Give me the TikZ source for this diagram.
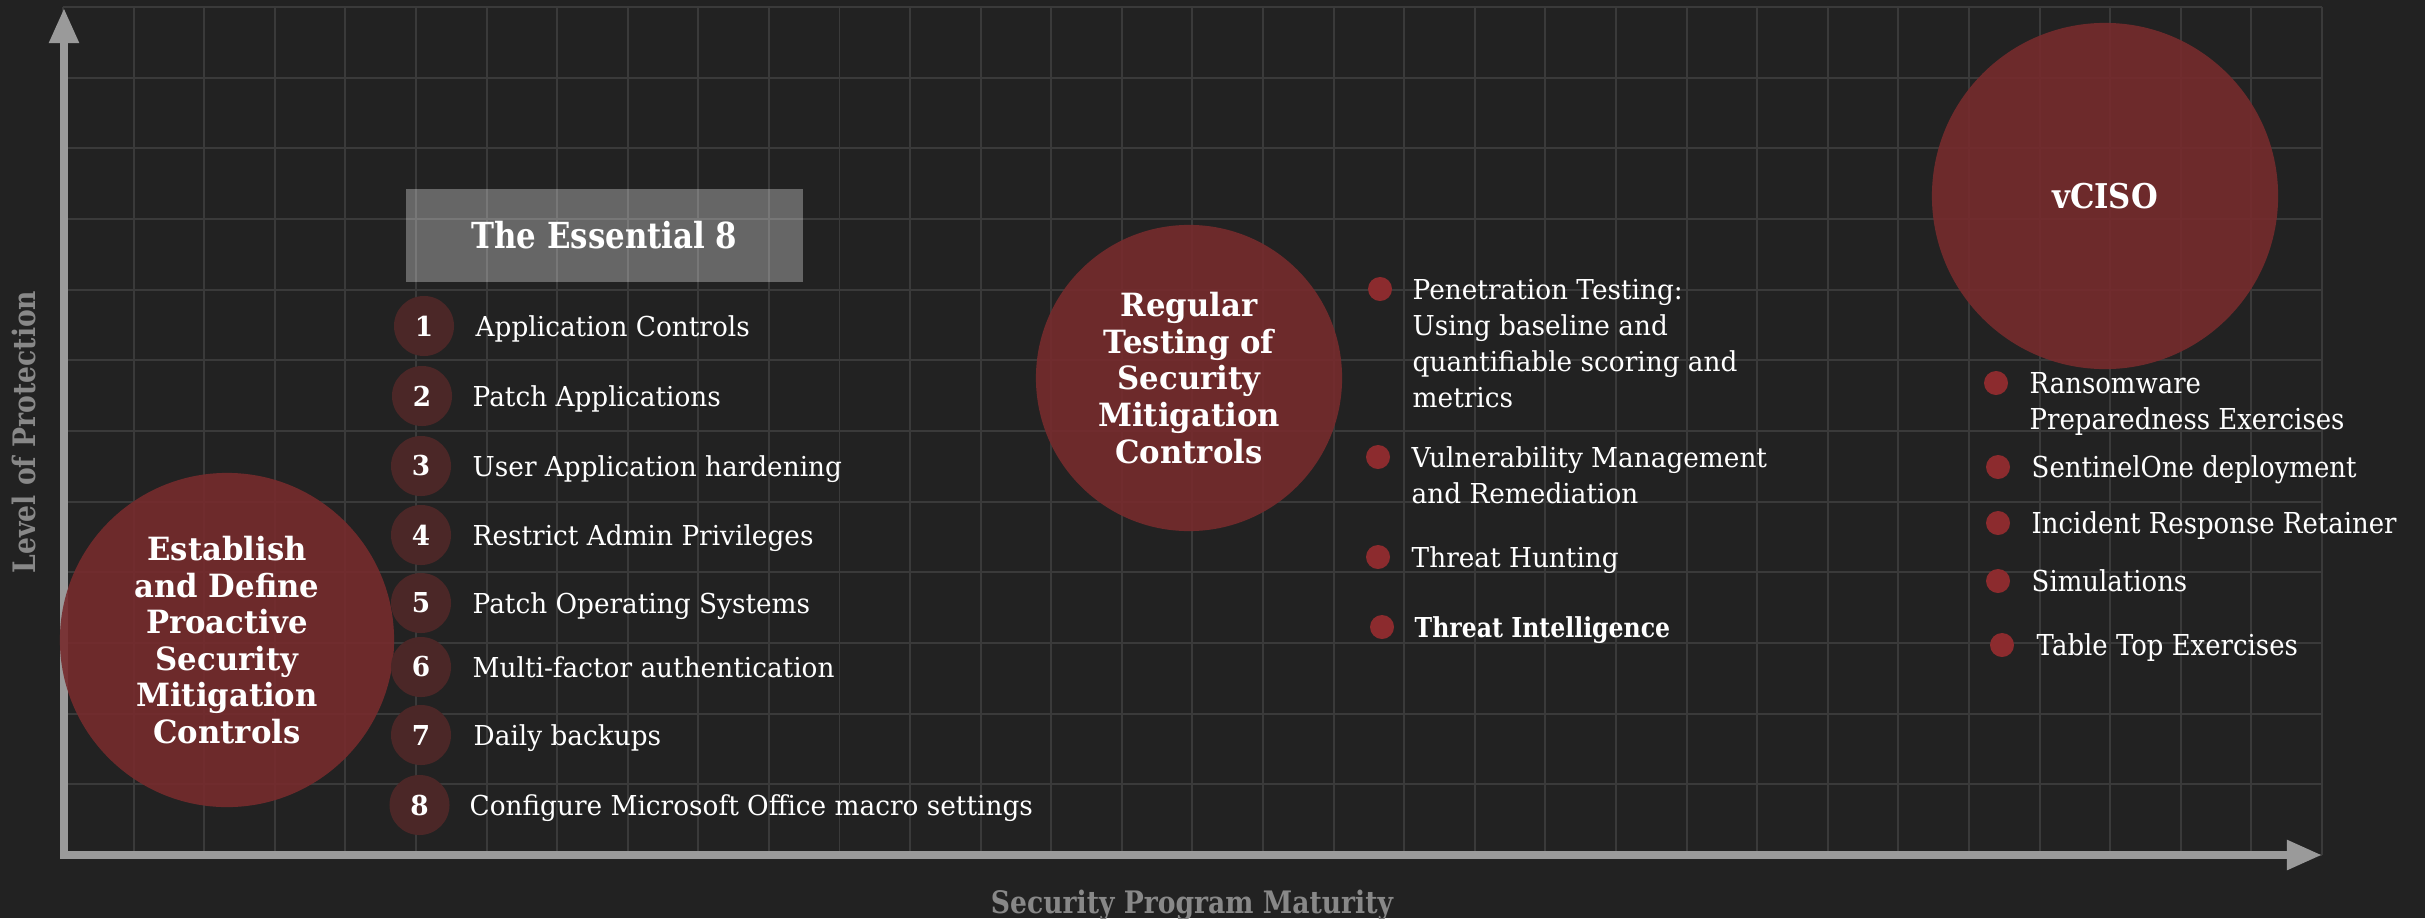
\documentclass[tikz,border=0pt]{standalone}
\usepackage{fontspec}
\setmainfont{DejaVu Serif}[FakeStretch=0.96]
\newfontfamily\narrowserif{DejaVu Serif}[FakeStretch=0.86]
\newfontfamily\wideserif{DejaVu Serif}[FakeStretch=0.9]
\usetikzlibrary{arrows.meta}

\definecolor{bg}{HTML}{222222}
\definecolor{gridc}{HTML}{3A3A3A}
\definecolor{axisc}{HTML}{9A9A9A}
\definecolor{labelc}{HTML}{888888}
\definecolor{bubble}{HTML}{762B2D}
\definecolor{numc}{HTML}{4B2727}
\definecolor{dotc}{HTML}{8C2B2E}

\tikzset{
  gridline/.style={draw=gridc, line width=0.55pt},
  axisline/.style={draw=axisc, line width=2.3pt,
    {Triangle[length=10pt,width=8pt]}-{Triangle[length=10pt,width=8pt]}},
  bigbubble/.style={circle, fill=bubble, fill opacity=0.9, text opacity=1,
    text=white, inner sep=0pt, align=center,
    font=\bfseries\fontsize{9.1}{10.4}\selectfont},
  titlebox/.style={fill=white, fill opacity=0.31, text opacity=1, text=white,
    minimum width=3.97cm, minimum height=0.93cm, inner sep=0pt,
    font=\narrowserif\bfseries\fontsize{10.2}{12}\selectfont},
  numdisc/.style={circle, fill=numc, minimum size=0.6cm, inner sep=0pt,
    text=white, font=\bfseries\fontsize{7.8}{9}\selectfont},
  item/.style={anchor=base west, inner sep=0pt, text=white, align=left,
    font=\fontsize{7.8}{10.2}\selectfont},
  dot/.style={circle, fill=dotc, minimum size=0.24cm, inner sep=0pt},
  ritem/.style={anchor=base west, inner sep=0pt, text=white, align=left,
    font=\wideserif\fontsize{8.2}{10.2}\selectfont},
  axislabel/.style={text=labelc, inner sep=0pt,
    font=\narrowserif\bfseries\fontsize{8.8}{10}\selectfont}
}

\begin{document}
\begin{tikzpicture}[x=0.01cm, y=-0.01cm]
  % canvas
  \fill[bg] (0,0) rectangle (2425,918);
  \useasboundingbox (0,0) rectangle (2425,918);

  % background grid, 32 x 12 cells
  \foreach \i in {0,...,32}
    \draw[gridline] ({63+70.59*\i},7) -- ({63+70.59*\i},855);
  \foreach \j in {0,...,12}
    \draw[gridline] (63,{7+70.67*\j}) -- (2322,{7+70.67*\j});

  % axes
  \coordinate (origin) at (64,855);
  \coordinate (ytip) at (64,8);
  \coordinate (xtip) at (2322,855);
  \draw[axisline] (ytip) -- (origin) -- (xtip);

  \node[axislabel, rotate=90] (ylab) at (24,432) {Level of Protection};
  \node[axislabel, anchor=base] (xlab) at (1192,913) {Security Program Maturity};

  % stage 1: establish and define
  \node[bigbubble, minimum size=3.34cm] (est) at (227,640)
    {Establish\\and Define\\Proactive\\Security\\Mitigation\\Controls};

  \node[titlebox] (e8) at (604.5,235.5) {The Essential 8};

  \node[numdisc] (n1) at (424,326) {1};
  \node[numdisc] (n2) at (422,396) {2};
  \node[numdisc] (n3) at (421,466) {3};
  \node[numdisc] (n4) at (421,535) {4};
  \node[numdisc] (n5) at (421,603) {5};
  \node[numdisc] (n6) at (421,667) {6};
  \node[numdisc] (n7) at (421,735) {7};
  \node[numdisc] (n8) at (419.5,805) {8};

  \node[item] (t1) at (475,336) {Application Controls};
  \node[item] (t2) at (472,406) {Patch Applications};
  \node[item] (t3) at (472,476) {User Application hardening};
  \node[item] (t4) at (472,545) {Restrict Admin Privileges};
  \node[item] (t5) at (472,613) {Patch Operating Systems};
  \node[item] (t6) at (472,677) {Multi-factor authentication};
  \node[item] (t7) at (473,745) {Daily backups};
  \node[item] (t8) at (469,815) {Configure Microsoft Office macro settings};

  % stage 2: regular testing
  \node[bigbubble, minimum size=3.06cm] (reg) at (1189,378)
    {Regular\\Testing of\\Security\\Mitigation\\Controls};

  \node[dot] (d1) at (1380,289) {};
  \node[dot] (d2) at (1378,457) {};
  \node[dot] (d3) at (1378,557) {};
  \node[dot] (d4) at (1382,627) {};

  % multi-line items sit on the baseline of their last line
  \node[item] (pen) at (1412,407)
    {Penetration Testing:\\Using baseline and\\quantifiable scoring and\\metrics};
  \node[item] (vul) at (1411,503) {Vulnerability Management\\and Remediation};
  \node[item] (hunt) at (1411,567) {Threat Hunting};
  \node[item, font=\narrowserif\bfseries\fontsize{7.8}{10.2}\selectfont] (intel) at (1414,637)
    {Threat Intelligence};

  % stage 3: vCISO
  \node[bigbubble, minimum size=3.46cm,
        font=\wideserif\bfseries\fontsize{9.7}{11}\selectfont] (vciso) at (2105,196) {vCISO};

  \node[dot] (r1) at (1996,383) {};
  \node[dot] (r2) at (1998,467) {};
  \node[dot] (r3) at (1998,523) {};
  \node[dot] (r4) at (1998,581) {};
  \node[dot] (r5) at (2002,645) {};

  \node[ritem] (ran) at (2029,429.5) {Ransomware\\Preparedness Exercises};
  \node[ritem] (sent) at (2031,477) {SentinelOne deployment};
  \node[ritem] (inc) at (2031,533) {Incident Response Retainer};
  \node[ritem] (sim) at (2031,591) {Simulations};
  \node[ritem] (tab) at (2036,655) {Table Top Exercises};
\end{tikzpicture}
\end{document}
